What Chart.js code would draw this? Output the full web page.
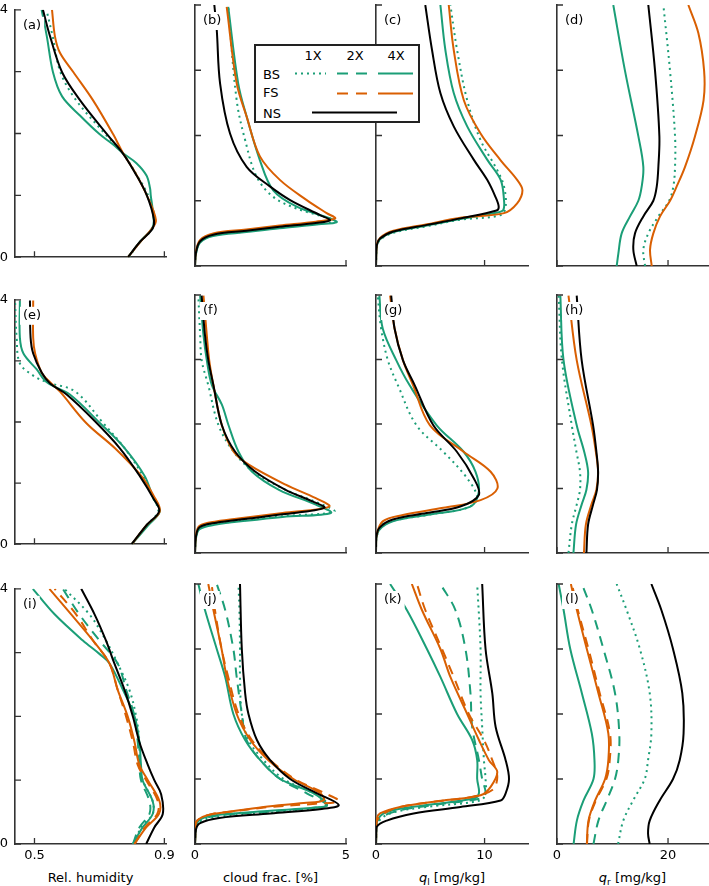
<!DOCTYPE html>
<html>
<head>
<meta charset="utf-8">
<script src="https://cdn.jsdelivr.net/npm/chart.js@4/dist/chart.umd.min.js"></script>
<style>
  body { margin: 0; background: #fff; width: 709px; height: 886px; position: relative; overflow: hidden;
         font-family: "DejaVu Sans", sans-serif; font-size: 13px; color: #000; }
  canvas { position: absolute; }
  .xtitle { position: absolute; top: 869px; line-height: 18px; text-align: center; white-space: nowrap; }
  .lg { position: absolute; z-index: 6; line-height: 16px; white-space: nowrap; }
  sub { font-size: 9px; vertical-align: -3px; line-height: 0; }
</style>
</head>
<body>

<div style="position:absolute;left:254px;top:44px;width:162px;height:75px;border:2px solid #222;background:#fff;z-index:5"></div>
<span class="lg" style="left:313px;top:56px;transform:translate(-50%,-50%)">1X</span>
<span class="lg" style="left:355px;top:56px;transform:translate(-50%,-50%)">2X</span>
<span class="lg" style="left:396px;top:56px;transform:translate(-50%,-50%)">4X</span>
<span class="lg" style="left:263px;top:75px;transform:translateY(-50%)">BS</span>
<span class="lg" style="left:263px;top:93px;transform:translateY(-50%)">FS</span>
<span class="lg" style="left:263px;top:114px;transform:translateY(-50%)">NS</span>
<svg width="709" height="140" style="position:absolute;left:0;top:0;z-index:6;pointer-events:none">
  <line x1="295" y1="73.5" x2="326" y2="73.5" stroke="#1b9e77" stroke-width="2" stroke-dasharray="2 4"/>
  <line x1="337" y1="73.5" x2="368" y2="73.5" stroke="#1b9e77" stroke-width="2" stroke-dasharray="11 8"/>
  <line x1="378" y1="73.5" x2="413" y2="73.5" stroke="#1b9e77" stroke-width="2"/>
  <line x1="337" y1="93.5" x2="368" y2="93.5" stroke="#d95f02" stroke-width="2" stroke-dasharray="11 8"/>
  <line x1="378" y1="93.5" x2="413" y2="93.5" stroke="#d95f02" stroke-width="2"/>
  <line x1="312" y1="112.5" x2="397" y2="112.5" stroke="#000" stroke-width="2"/>
</svg>

<div class="xtitle" style="left:15px;width:151px">Rel. humidity</div>
<div class="xtitle" style="left:195px;width:151px">cloud frac. [%]</div>
<div class="xtitle" style="left:376px;width:152px"><i>q</i><sub>l</sub> [mg/kg]</div>
<div class="xtitle" style="left:557px;width:151px"><i>q</i><sub>r</sub> [mg/kg]</div>

<script>
// profiles: [value, height] pairs, height 0..4
// row 1
const a_ns  = [[0.788,0],[0.825,0.25],[0.862,0.45],[0.868,0.6],[0.846,1.0],[0.809,1.37],[0.772,1.68],[0.723,1.99],[0.64,2.54],[0.585,2.99],[0.548,3.57],[0.526,4.0]];
const a_bs1 = [[0.79,0],[0.826,0.25],[0.862,0.45],[0.87,0.62],[0.85,1.0],[0.81,1.37],[0.772,1.68],[0.718,1.99],[0.628,2.54],[0.58,2.99],[0.556,3.57],[0.537,4.0]];
const a_bs4 = [[0.788,0],[0.825,0.25],[0.865,0.5],[0.864,0.76],[0.858,1.0],[0.856,1.11],[0.845,1.32],[0.814,1.52],[0.773,1.68],[0.74,1.83],[0.70,1.99],[0.64,2.29],[0.585,2.6],[0.557,2.99],[0.538,3.57],[0.522,4.0]];
const a_fs4 = [[0.788,0],[0.826,0.25],[0.86,0.45],[0.874,0.6],[0.846,1.0],[0.81,1.37],[0.773,1.68],[0.742,1.99],[0.68,2.54],[0.62,2.99],[0.578,3.31],[0.563,3.57],[0.554,4.0]];

const b_ns  = [[0,0],[0.03,0.2],[0.17,0.38],[0.6,0.48],[1.7,0.54],[2.8,0.6],[4.0,0.66],[4.47,0.7],[4.14,0.78],[3.15,1.01],[2.48,1.22],[1.71,1.52],[1.16,2.03],[0.83,2.8],[0.72,3.62],[0.64,4.0]];
const b_bs1 = [[0,0],[0.03,0.19],[0.17,0.37],[0.6,0.47],[1.7,0.53],[2.8,0.59],[4.1,0.65],[4.64,0.69],[3.37,0.88],[2.59,1.06],[2.04,1.37],[1.66,1.93],[1.38,2.54],[1.1,3.97]];
const b_bs4 = [[0,0],[0.03,0.18],[0.17,0.36],[0.6,0.46],[1.7,0.52],[2.8,0.58],[4.1,0.64],[4.69,0.68],[3.37,0.91],[2.59,1.16],[2.15,1.62],[1.71,2.29],[1.43,2.8],[1.1,3.97]];
const b_fs4 = [[0,0],[0.03,0.22],[0.17,0.4],[0.6,0.5],[1.7,0.56],[2.8,0.62],[4.0,0.68],[4.64,0.73],[4.36,0.81],[3.7,1.01],[2.81,1.32],[2.15,1.68],[1.71,2.29],[1.38,2.8],[1.05,3.97]];

const c_ns  = [[0,0],[0.06,0.3],[0.37,0.42],[1.6,0.53],[4.69,0.63],[7.78,0.73],[11.1,0.85],[11.3,0.91],[11.0,1.06],[10.24,1.32],[9.0,1.63],[7.16,2.14],[5.93,2.65],[5.16,3.31],[4.54,4.0]];
const c_bs1 = [[0,0],[0.06,0.28],[0.37,0.4],[1.6,0.51],[4.69,0.61],[7.78,0.71],[11.48,0.78],[11.94,0.91],[11.79,1.22],[11.17,1.47],[9.63,1.93],[8.4,2.54],[7.47,3.31],[6.85,4.0]];
const c_bs4 = [[0,0],[0.06,0.29],[0.37,0.41],[1.6,0.52],[4.69,0.62],[7.78,0.72],[11.2,0.82],[11.73,0.86],[11.79,1.01],[11.48,1.32],[10.24,1.63],[8.4,2.14],[7.16,2.65],[6.39,3.31],[5.93,4.0]];
const c_fs4 = [[0,0],[0.06,0.31],[0.37,0.43],[1.6,0.54],[4.69,0.64],[7.78,0.74],[11.79,0.81],[13.0,0.96],[13.49,1.16],[13.0,1.32],[11.48,1.62],[9.63,2.03],[8.09,2.54],[7.16,3.31],[6.7,4.0]];

const d_ns  = [[14.36,0],[13.75,0.25],[14.05,0.5],[15.55,0.76],[17.35,1.0],[17.97,1.22],[18.26,1.52],[18.44,1.99],[17.66,2.99],[16.45,4.0]];
const d_bs1 = [[15.86,0],[15.55,0.25],[16.45,0.5],[18.26,0.76],[20.2,1.0],[20.96,1.22],[21.26,1.52],[21.26,1.99],[20.36,2.99],[19.16,4.0]];
const d_bs4 = [[10.75,0],[11.05,0.19],[11.65,0.5],[13.15,0.76],[14.65,1.0],[15.26,1.22],[15.55,1.52],[14.65,1.99],[12.25,2.99],[10.14,4.0]];
const d_fs4 = [[17.06,0],[16.76,0.25],[17.35,0.5],[18.56,0.76],[20.36,1.0],[21.56,1.22],[23.06,1.52],[24.86,1.99],[26.4,2.54],[26.5,2.99],[25.46,3.57],[23.66,4.0]];

// row 2
const e_ns  = [[0.799,0],[0.845,0.31],[0.884,0.54],[0.866,0.75],[0.825,1.11],[0.763,1.57],[0.681,2.04],[0.599,2.45],[0.548,2.63],[0.522,2.81],[0.496,3.12],[0.488,3.38],[0.486,3.99]];
const e_bs1 = [[0.8,0],[0.845,0.31],[0.881,0.54],[0.866,0.75],[0.835,1.11],[0.778,1.57],[0.712,1.98],[0.625,2.5],[0.538,2.65],[0.496,2.76],[0.455,2.96],[0.445,3.38],[0.44,3.99]];
const e_bs4 = [[0.8,0],[0.85,0.31],[0.886,0.54],[0.866,0.75],[0.84,1.11],[0.778,1.57],[0.702,1.98],[0.609,2.45],[0.538,2.65],[0.507,2.86],[0.466,3.12],[0.455,3.38],[0.455,3.99]];
const e_fs4 = [[0.8,0],[0.845,0.31],[0.886,0.54],[0.866,0.8],[0.83,1.11],[0.748,1.57],[0.66,1.98],[0.578,2.5],[0.548,2.65],[0.522,2.81],[0.502,3.12],[0.496,3.38],[0.496,3.99]];

const f_ns  = [[0,0],[0.03,0.25],[0.15,0.4],[0.7,0.47],[1.7,0.53],[2.9,0.6],[4.28,0.7],[3.89,0.8],[3.0,0.98],[2.0,1.26],[1.33,1.57],[0.89,1.98],[0.61,2.6],[0.44,2.99],[0.33,3.38],[0.22,3.99]];
const f_bs1 = [[0,0],[0.03,0.23],[0.15,0.38],[0.7,0.45],[1.7,0.51],[2.9,0.57],[4.61,0.64],[4.22,0.75],[3.0,0.98],[1.94,1.26],[1.28,1.57],[0.78,1.98],[0.44,2.6],[0.22,2.99],[0.17,3.38],[0.11,3.99]];
const f_bs4 = [[0,0],[0.03,0.22],[0.15,0.37],[0.7,0.44],[1.7,0.5],[2.9,0.56],[4.5,0.62],[4.0,0.75],[2.78,0.98],[1.89,1.26],[1.44,1.57],[1.11,1.98],[0.89,2.3],[0.56,2.6],[0.39,2.99],[0.28,3.38],[0.17,3.99]];
const f_fs4 = [[0,0],[0.03,0.27],[0.15,0.42],[0.7,0.49],[1.7,0.55],[2.9,0.62],[4.44,0.72],[4.0,0.85],[3.0,1.06],[1.78,1.37],[1.28,1.57],[0.89,1.98],[0.61,2.6],[0.47,2.99],[0.39,3.38],[0.28,3.99]];

const g_ns  = [[0,0],[0.02,0.23],[0.31,0.39],[1.55,0.52],[4.66,0.62],[7.76,0.72],[9.47,0.9],[9.0,1.16],[7.45,1.57],[5.28,1.98],[3.57,2.6],[2.48,2.99],[1.71,3.48],[1.4,3.99]];
const g_bs1 = [[0,0],[0.02,0.22],[0.5,0.42],[1.24,0.49],[4.66,0.59],[8.39,0.7],[9.32,0.85],[8.39,1.16],[6.2,1.57],[3.73,1.98],[2.02,2.6],[1.09,2.99],[0.47,3.48],[0.16,3.99]];
const g_bs4 = [[0,0],[0.02,0.21],[0.31,0.36],[1.55,0.49],[4.66,0.59],[8.7,0.72],[9.47,0.95],[9.16,1.26],[8.07,1.57],[5.59,1.98],[3.1,2.6],[1.86,2.99],[0.62,3.48],[0.31,3.99]];
const g_fs4 = [[0,0],[0.02,0.25],[0.62,0.49],[2.48,0.59],[6.2,0.7],[9.63,0.82],[11.18,1.0],[10.56,1.26],[8.07,1.57],[4.97,1.98],[3.42,2.6],[2.48,2.99],[1.71,3.48],[1.3,3.99]];

const h_ns  = [[5.3,0],[5.6,0.44],[6.5,0.75],[7.2,0.98],[7.4,1.26],[7.1,1.57],[6.5,1.98],[4.44,2.99],[3.55,3.99]];
const h_bs1 = [[2.07,0],[2.66,0.44],[3.55,0.75],[4.14,0.98],[4.14,1.26],[3.5,1.57],[2.66,1.98],[0.89,2.99],[0.3,3.99]];
const h_bs4 = [[2.96,0],[3.43,0.44],[4.44,0.75],[5.3,0.98],[5.6,1.26],[4.9,1.57],[3.55,1.98],[1.18,2.99],[0.6,3.99]];
const h_fs4 = [[4.85,0],[5.2,0.44],[6.2,0.75],[7.1,0.98],[7.4,1.26],[7.0,1.57],[6.2,1.98],[3.55,2.99],[2.07,3.99]];

// row 3
const i_ns  = [[0.844,0],[0.869,0.26],[0.895,0.47],[0.89,0.78],[0.869,1.0],[0.849,1.24],[0.823,1.6],[0.803,2.0],[0.777,2.42],[0.746,2.83],[0.72,3.19],[0.685,3.6],[0.644,4.0]];
const i_bs1 = [[0.808,0],[0.828,0.26],[0.864,0.47],[0.864,0.67],[0.833,1.0],[0.823,1.24],[0.823,1.6],[0.813,2.0],[0.792,2.42],[0.756,2.83],[0.72,3.19],[0.669,3.6],[0.592,4.0]];
const i_bs2 = [[0.803,0],[0.823,0.26],[0.854,0.47],[0.854,0.67],[0.828,1.0],[0.823,1.24],[0.818,1.6],[0.808,2.0],[0.782,2.42],[0.756,2.83],[0.7,3.19],[0.638,3.6],[0.587,4.0]];
const i_bs4 = [[0.803,0],[0.833,0.26],[0.864,0.47],[0.864,0.67],[0.833,1.0],[0.828,1.24],[0.823,1.6],[0.808,2.0],[0.772,2.42],[0.731,2.83],[0.7,2.98],[0.649,3.19],[0.562,3.6],[0.495,4.0]];
const i_fs2 = [[0.808,0],[0.84,0.26],[0.878,0.47],[0.88,0.67],[0.844,1.0],[0.818,1.24],[0.803,1.6],[0.782,2.0],[0.756,2.42],[0.731,2.83],[0.68,3.19],[0.628,3.6],[0.562,4.0]];
const i_fs4 = [[0.808,0],[0.844,0.26],[0.883,0.47],[0.885,0.67],[0.849,1.0],[0.823,1.24],[0.808,1.6],[0.787,2.0],[0.756,2.42],[0.731,2.83],[0.68,3.19],[0.613,3.6],[0.546,4.0]];

const j_ns  = [[0,0],[0.03,0.22],[0.17,0.32],[0.8,0.4],[2.5,0.47],[4.2,0.54],[4.76,0.6],[4.04,0.78],[3.15,1.0],[2.49,1.29],[2.05,1.6],[1.77,2.0],[1.66,2.32],[1.55,3.0],[1.49,4.0]];
const j_bs1 = [[0,0],[0.03,0.25],[0.17,0.35],[0.8,0.42],[2.5,0.48],[4.0,0.55],[4.37,0.62],[3.93,0.78],[2.93,1.0],[2.27,1.29],[1.77,1.6],[1.55,2.0],[1.49,2.57],[1.49,3.0],[1.47,3.6],[1.44,4.0]];
const j_bs2 = [[0,0],[0.03,0.27],[0.17,0.37],[0.8,0.44],[2.5,0.5],[4.0,0.56],[4.37,0.6],[3.7,0.78],[2.82,1.0],[2.16,1.29],[1.71,1.6],[1.55,2.0],[1.38,2.57],[1.27,3.0],[1.0,3.6],[0.72,4.0]];
const j_bs4 = [[0,0],[0.03,0.28],[0.17,0.38],[0.8,0.45],[2.5,0.51],[4.0,0.56],[4.37,0.6],[3.93,0.78],[2.82,1.0],[2.16,1.29],[1.66,1.6],[1.27,2.0],[1.0,2.57],[0.72,3.0],[0.33,3.6],[0.11,4.0]];
const j_fs2 = [[0,0],[0.03,0.33],[0.39,0.44],[1.2,0.5],[2.5,0.57],[4.0,0.62],[4.76,0.66],[4.3,0.78],[3.3,1.0],[2.49,1.29],[1.88,1.6],[1.44,2.0],[1.1,2.57],[0.88,3.0],[0.66,3.6],[0.55,4.0]];
const j_fs4 = [[0,0],[0.03,0.33],[0.39,0.44],[1.2,0.5],[2.27,0.57],[3.6,0.63],[4.26,0.67],[4.15,0.78],[3.26,1.0],[2.43,1.29],[1.83,1.6],[1.38,2.0],[1.05,2.57],[0.88,3.0],[0.61,3.6],[0.44,4.0]];

const k_ns  = [[0,0],[0.06,0.26],[0.99,0.36],[3.46,0.47],[7.78,0.57],[11.48,0.67],[11.94,0.78],[12.25,1.0],[11.94,1.29],[11.02,1.8],[10.71,2.32],[10.09,3.0],[9.78,4.0]];
const k_bs1 = [[0,0],[0.06,0.3],[1.3,0.47],[4.69,0.57],[9.63,0.67],[10.09,0.78],[10.09,1.0],[9.94,1.29],[9.78,1.8],[9.63,2.32],[9.63,3.0],[9.32,4.0]];
const k_bs2 = [[0,0],[0.06,0.34],[1.6,0.49],[5.3,0.6],[9.63,0.7],[10.09,0.78],[9.78,1.0],[9.48,1.29],[8.86,1.8],[8.7,2.32],[8.24,3.0],[7.31,3.6],[5.93,4.0]];
const k_bs4 = [[0,0],[0.06,0.34],[0.99,0.49],[4.69,0.6],[9.0,0.7],[9.48,0.78],[9.32,1.0],[9.32,1.29],[8.86,1.6],[7.47,2.0],[5.93,2.57],[4.69,3.0],[2.84,3.6],[1.3,4.0]];
const k_fs2 = [[0,0],[0.06,0.35],[1.6,0.54],[5.3,0.65],[8.7,0.72],[10.71,0.83],[11.17,1.03],[10.71,1.29],[9.94,1.6],[8.55,2.0],[7.16,2.57],[6.08,3.0],[4.54,3.6],[3.77,4.0]];
const k_fs4 = [[0,0],[0.06,0.38],[0.37,0.47],[2.22,0.57],[6.23,0.67],[9.63,0.75],[10.56,0.88],[11.17,1.11],[10.4,1.29],[9.48,1.6],[8.4,2.0],[6.85,2.57],[5.93,3.0],[4.23,3.6],[3.3,4.0]];

const l_ns  = [[16.7,0],[16.4,0.16],[16.7,0.36],[18.5,0.67],[20.9,1.0],[22.1,1.29],[22.8,1.7],[22.57,2.32],[20.9,3.0],[18.8,3.6],[17.0,4.0]];
const l_bs1 = [[11.0,0],[11.94,0.36],[13.7,0.67],[15.8,1.0],[16.4,1.29],[17.0,1.7],[16.7,2.32],[14.93,3.0],[12.54,3.6],[10.75,4.0]];
const l_bs2 = [[6.57,0],[7.46,0.36],[8.96,0.67],[10.45,1.0],[11.04,1.29],[11.22,1.7],[10.45,2.32],[8.36,3.0],[6.27,3.6],[4.48,4.0]];
const l_bs4 = [[2.99,0],[3.58,0.36],[4.78,0.67],[6.57,1.0],[6.75,1.29],[6.27,1.7],[4.48,2.32],[2.39,3.0],[1.19,3.6],[0.3,4.0]];
const l_fs2 = [[5.4,0],[5.75,0.36],[7.0,0.67],[8.9,1.0],[9.5,1.29],[9.55,1.7],[7.7,2.32],[5.67,3.0],[3.75,3.6],[2.69,4.0]];
const l_fs4 = [[5.37,0],[5.67,0.36],[6.87,0.67],[8.66,1.0],[9.25,1.29],[9.25,1.7],[7.46,2.32],[5.37,3.0],[3.58,3.6],[2.5,4.0]];

// axes
const yTicks = [0, 1, 2, 3, 4];
const yLabels = [0, 4];
const xTicks = [[0.5, 0.9], [0, 5], [0, 10], [0, 20]];
const xRange = [[0.44, 0.905], [0, 5], [0, 14], [0, 27.2]];
const panelLabels = ['(a)','(b)','(c)','(d)','(e)','(f)','(g)','(h)','(i)','(j)','(k)','(l)'];

const G = '#1b9e77', O = '#d95f02', K = '#000000';
const styles = {
  ns:  { color: K, dash: [] },
  fs4: { color: O, dash: [] },
  fs2: { color: O, dash: [10, 7] },
  bs4: { color: G, dash: [] },
  bs2: { color: G, dash: [10, 7] },
  bs1: { color: G, dash: [2, 4] }
};

const panelSeries = [
  { ns: a_ns, fs4: a_fs4, bs4: a_bs4, bs1: a_bs1 },
  { ns: b_ns, fs4: b_fs4, bs4: b_bs4, bs1: b_bs1 },
  { ns: c_ns, fs4: c_fs4, bs4: c_bs4, bs1: c_bs1 },
  { ns: d_ns, fs4: d_fs4, bs4: d_bs4, bs1: d_bs1 },
  { ns: e_ns, fs4: e_fs4, bs4: e_bs4, bs1: e_bs1 },
  { ns: f_ns, fs4: f_fs4, bs4: f_bs4, bs1: f_bs1 },
  { ns: g_ns, fs4: g_fs4, bs4: g_bs4, bs1: g_bs1 },
  { ns: h_ns, fs4: h_fs4, bs4: h_bs4, bs1: h_bs1 },
  { ns: i_ns, fs4: i_fs4, fs2: i_fs2, bs4: i_bs4, bs2: i_bs2, bs1: i_bs1 },
  { ns: j_ns, fs4: j_fs4, fs2: j_fs2, bs4: j_bs4, bs2: j_bs2, bs1: j_bs1 },
  { ns: k_ns, fs4: k_fs4, fs2: k_fs2, bs4: k_bs4, bs2: k_bs2, bs1: k_bs1 },
  { ns: l_ns, fs4: l_fs4, fs2: l_fs2, bs4: l_bs4, bs2: l_bs2, bs1: l_bs1 }
];

// layout of plot areas in the page
const colLeft = [15, 195, 376, 557], colW = [151, 151, 152, 151];
const rowTop = [5, 295, 584], rowH = [261, 258, 260];
const PADT = 10, PADR = 14, YW = 15;

Chart.defaults.font.family = '"DejaVu Sans", sans-serif';
Chart.defaults.font.size = 13;
Chart.defaults.color = '#000';

// inward ticks + panel letter
const decor = {
  id: 'decor',
  afterDraw(chart, args, opts) {
    const { ctx, chartArea: a, scales: { x, y } } = chart;
    ctx.save();
    ctx.strokeStyle = '#333';
    ctx.lineWidth = 1.3;
    ctx.beginPath();
    yTicks.forEach(v => {
      const py = y.getPixelForValue(v);
      ctx.moveTo(a.left, py); ctx.lineTo(a.left + 6, py);
    });
    opts.xt.forEach(v => {
      const px = x.getPixelForValue(v);
      ctx.moveTo(px, a.bottom); ctx.lineTo(px, a.bottom - 6);
    });
    ctx.stroke();
    ctx.font = '13px "DejaVu Sans"';
    const w = ctx.measureText(opts.label).width;
    ctx.fillStyle = '#fff';
    ctx.fillRect(a.left + 5, a.top + 7, w + 6, 18);
    ctx.fillStyle = '#000';
    ctx.textBaseline = 'middle';
    ctx.fillText(opts.label, a.left + 8, a.top + 16);
    ctx.restore();
  }
};

panelSeries.forEach((series, i) => {
  const r = Math.floor(i / 4), c = i % 4;
  const bottom = r === 2;
  const xh = bottom ? 30 : 6;
  const cv = document.createElement('canvas');
  cv.width = YW + colW[c] + PADR;
  cv.height = PADT + rowH[r] + xh;
  cv.style.left = (colLeft[c] - YW) + 'px';
  cv.style.top = (rowTop[r] - PADT) + 'px';
  document.body.appendChild(cv);

  const datasets = Object.keys(series).map(key => ({
    data: series[key].map(p => ({ x: p[0], y: p[1] })),
    showLine: true,
    borderColor: styles[key].color,
    borderDash: styles[key].dash,
    borderWidth: 2,
    pointRadius: 0,
    tension: 0.35,
    fill: false
  }));

  new Chart(cv, {
    type: 'scatter',
    data: { datasets },
    options: {
      responsive: false,
      animation: false,
      devicePixelRatio: 1,
      layout: { padding: { top: PADT, right: PADR, left: 0, bottom: 0 } },
      plugins: {
        legend: { display: false },
        tooltip: { enabled: false },
        decor: { label: panelLabels[i], xt: xTicks[c] }
      },
      scales: {
        x: {
          type: 'linear', min: xRange[c][0], max: xRange[c][1],
          grid: { display: false, drawTicks: false },
          border: { display: true, color: '#333', width: 1.6 },
          ticks: { display: bottom, padding: 4, autoSkip: false, maxRotation: 0,
                   callback: v => c === 0 ? v.toFixed(1) : String(v) },
          afterBuildTicks: s => { s.ticks = xTicks[c].map(v => ({ value: v })); },
          afterFit: s => { s.height = xh; }
        },
        y: {
          type: 'linear', min: 0, max: 4,
          grid: { display: false, drawTicks: false },
          border: { display: true, color: '#333', width: 1.6 },
          ticks: { display: c === 0, padding: 7, autoSkip: false },
          afterBuildTicks: s => { s.ticks = yLabels.map(v => ({ value: v })); },
          afterFit: s => { s.width = YW; }
        }
      }
    },
    plugins: [decor]
  });
});
</script>
</body>
</html>
